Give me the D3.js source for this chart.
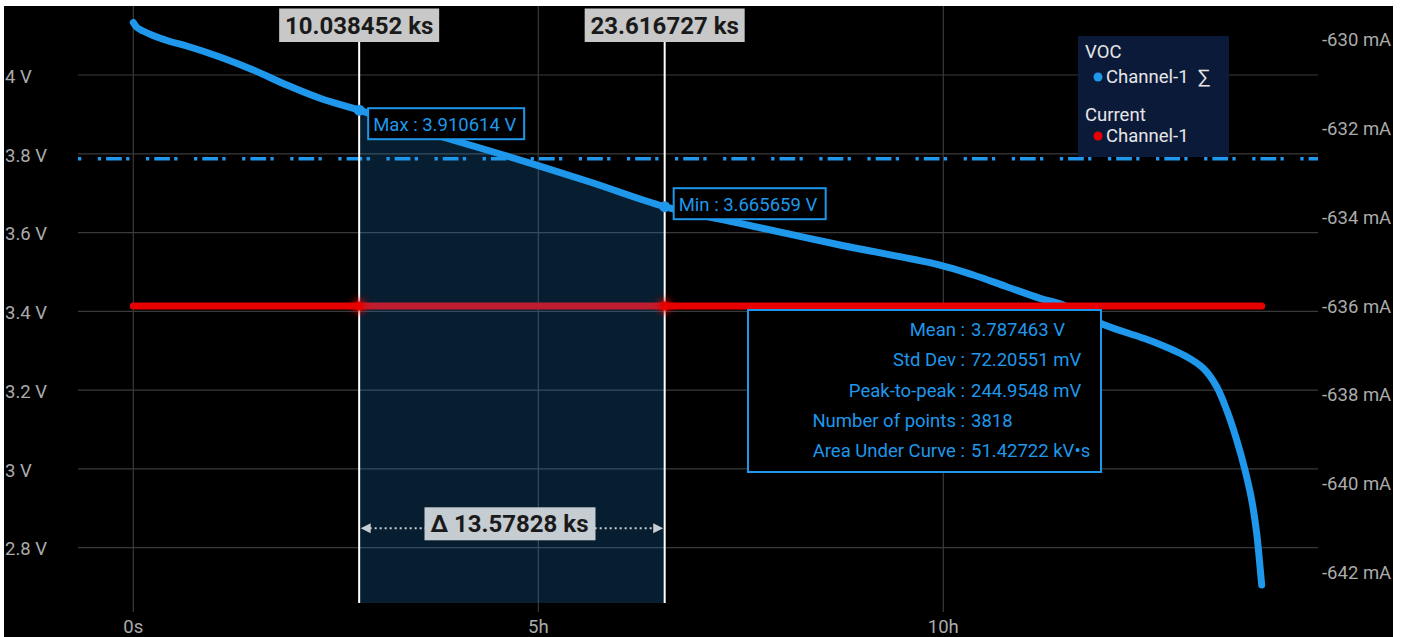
<!DOCTYPE html>
<html>
<head>
<meta charset="utf-8">
<script src="https://cdn.jsdelivr.net/npm/d3@7"></script>
<style>
  html, body { margin: 0; padding: 0; background: #fff; overflow: hidden; }
  svg { display: block; font-family: Roboto, "Noto Sans", sans-serif; }
</style>
</head>
<body>
<svg id="chart" width="1407" height="637"></svg>
<script>
// VOC Channel-1: elapsed time (s) and open-circuit voltage (V)
const vocTime = [0, 164, 431, 876, 1631, 2373, 3853, 5333, 6818, 8298, 10038.452, 13187, 16742, 20298,
  23616.727, 26964, 31409, 35853, 37333, 38818, 40298, 41333, 43111, 44742, 45333, 46818, 47556, 48151,
  48596, 49040, 49409, 49707, 49929, 50076, 50151];
const vocVolts = [4.1333, 4.1206, 4.1117, 4.1003, 4.0850, 4.0736, 4.0457, 4.0127, 3.9746, 3.9408, 3.910614,
  3.8528, 3.7918, 3.7284, 3.665659, 3.6235, 3.5684, 3.5176, 3.4923, 3.4626, 3.4331, 3.4161, 3.3666, 3.3349,
  3.3229, 3.2848, 3.2554, 3.2087, 3.1495, 3.0734, 2.9972, 2.9210, 2.8365, 2.7517, 2.7052];

// Current Channel-1 (mA)
const currentTime = [0, 50151];
const currentMilliamps = [-636.03, -636.03];

// Cursors and the statistics of the span between them
const cursorTimes = [10038.452, 23616.727];
const cursorLabels = ["10.038452 ks", "23.616727 ks"];
const deltaLabel = "\u0394 13.57828 ks";
const maxVolts = 3.910614;
const minVolts = 3.665659;
const maxLabel = "Max : 3.910614 V";
const minLabel = "Min : 3.665659 V";
const meanVolts = 3.787463;
const statNames = ["Mean :", "Std Dev :", "Peak-to-peak :", "Number of points :", "Area Under Curve :"];
const statValues = ["3.787463 V", "72.20551 mV", "244.9548 mV", "3818", "51.42722 kV\u2022s"];

// Axes
const voltTicks = [2.8, 3.0, 3.2, 3.4, 3.6, 3.8, 4.0];
const voltTickLabels = ["2.8 V", "3 V", "3.2 V", "3.4 V", "3.6 V", "3.8 V", "4 V"];
const currentTicks = [-642, -640, -638, -636, -634, -632, -630];
const currentTickLabels = ["-642 mA", "-640 mA", "-638 mA", "-636 mA", "-634 mA", "-632 mA", "-630 mA"];
const timeTicks = [0, 18000, 36000];
const timeTickLabels = ["0s", "5h", "10h"];

// Legend
const legendGroups = ["VOC", "Current"];
const legendEntries = ["Channel-1", "Channel-1"];

const BLUE = "#1f97ea";
const RED = "#e60000";
const GRID = "#3a3a3a";
const AXIS_TEXT = "#ababab";
const FS = 18.5;

const plot = { left: 78, right: 1318, top: 6, bottom: 603 };

const x = d3.scaleLinear().domain([0, 36000]).range([133.3, 943.3]);
const yV = d3.scaleLinear().domain([2.8, 4.0]).range([547.7, 75]);
const yA = d3.scaleLinear().domain([-642, -630]).range([571, 38.5]);

const svg = d3.select("#chart");
const defs = svg.append("defs");

const glow = defs.append("filter").attr("id", "glow")
  .attr("x", "-200%").attr("y", "-200%").attr("width", "500%").attr("height", "500%");
glow.append("feGaussianBlur").attr("stdDeviation", 3.5);

defs.append("clipPath").attr("id", "span")
  .append("rect")
  .attr("x", x(cursorTimes[0])).attr("y", plot.top)
  .attr("width", x(cursorTimes[1]) - x(cursorTimes[0]))
  .attr("height", plot.bottom - plot.top);

// background panel
svg.append("rect").attr("x", 0).attr("y", 0).attr("width", 1407).attr("height", 637).attr("fill", "#fff");
svg.append("rect").attr("x", 4).attr("y", 6).attr("width", 1389).attr("height", 631).attr("fill", "#000");

// grid
svg.append("g").selectAll("line").data(voltTicks).join("line")
  .attr("x1", plot.left).attr("x2", plot.right)
  .attr("y1", d => yV(d)).attr("y2", d => yV(d))
  .attr("stroke", GRID).attr("stroke-width", 1.2);
svg.append("g").selectAll("line").data(timeTicks).join("line")
  .attr("x1", d => x(d)).attr("x2", d => x(d))
  .attr("y1", plot.top).attr("y2", 612)
  .attr("stroke", GRID).attr("stroke-width", 1.2);

// mean level (dash-dot)
svg.append("line")
  .attr("x1", plot.left).attr("x2", plot.right)
  .attr("y1", yV(meanVolts)).attr("y2", yV(meanVolts))
  .attr("stroke", BLUE).attr("stroke-width", 3.4)
  .attr("stroke-dasharray", "3.3,16.5,3.3,5,15.7,4.3");

const vocData = vocTime.map((t, i) => ({ t, v: vocVolts[i] }));
const curData = currentTime.map((t, i) => ({ t, a: currentMilliamps[i] }));

// voltage trace
const vLine = d3.line().x(d => x(d.t)).y(d => yV(d.v)).curve(d3.curveCatmullRom.alpha(0.5));
svg.append("path").datum(vocData)
  .attr("d", vLine).attr("fill", "none")
  .attr("stroke", BLUE).attr("stroke-width", 7)
  .attr("stroke-linecap", "round").attr("stroke-linejoin", "round");

// current trace
const aLine = d3.line().x(d => x(d.t)).y(d => yA(d.a));
svg.append("path").datum(curData)
  .attr("d", aLine).attr("fill", "none")
  .attr("stroke", RED).attr("stroke-width", 7)
  .attr("stroke-linecap", "round");

// area under the curve between the cursors
const vArea = d3.area().x(d => x(d.t)).y0(plot.bottom).y1(d => yV(d.v)).curve(d3.curveCatmullRom.alpha(0.5));
svg.append("path").datum(vocData)
  .attr("d", vArea).attr("clip-path", "url(#span)")
  .attr("fill", BLUE).attr("fill-opacity", 0.2);

// cursor lines
svg.append("g").selectAll("line").data(cursorTimes).join("line")
  .attr("x1", d => x(d)).attr("x2", d => x(d))
  .attr("y1", 42).attr("y2", plot.bottom)
  .attr("stroke", "#fff").attr("stroke-width", 2);

// current markers at the cursors
const curAt = cursorTimes.map(t => ({ t, a: currentMilliamps[0] }));
svg.append("g").selectAll("circle").data(curAt).join("circle")
  .attr("cx", d => x(d.t)).attr("cy", d => yA(d.a)).attr("r", 7)
  .attr("fill", RED).attr("opacity", 0.8).attr("filter", "url(#glow)");
svg.append("g").selectAll("circle").data(curAt).join("circle")
  .attr("cx", d => x(d.t)).attr("cy", d => yA(d.a)).attr("r", 4.5)
  .attr("fill", RED);

// voltage markers at the cursors (max / min)
const extremes = [
  { t: cursorTimes[0], v: maxVolts, label: maxLabel, dx: 9, dy: -2, w: 156 },
  { t: cursorTimes[1], v: minVolts, label: minLabel, dx: 9, dy: -18.5, w: 152 }
];
svg.append("g").selectAll("circle").data(extremes).join("circle")
  .attr("cx", d => x(d.t)).attr("cy", d => yV(d.v)).attr("r", 5.5)
  .attr("fill", BLUE);
const ext = svg.append("g").selectAll("g").data(extremes).join("g")
  .attr("transform", d => `translate(${x(d.t) + d.dx},${yV(d.v) + d.dy})`);
ext.append("rect").attr("width", d => d.w).attr("height", 31)
  .attr("fill", "#000").attr("stroke", BLUE).attr("stroke-width", 2);
ext.append("text").attr("x", 5).attr("y", 23)
  .attr("fill", BLUE).attr("font-size", FS).text(d => d.label);

// cursor time labels
const cl = svg.append("g").selectAll("g").data(cursorTimes).join("g")
  .attr("transform", d => `translate(${x(d)},0)`);
cl.append("rect").attr("x", -80).attr("y", 8.5).attr("width", 160).attr("height", 33.5)
  .attr("fill", "#c8c8c8");
cl.append("text").attr("x", 0).attr("y", 34).attr("text-anchor", "middle")
  .attr("font-size", 24).attr("font-weight", "bold").attr("fill", "#1a1a1a")
  .text((d, i) => cursorLabels[i]);

// delta measurement arrow
const dY = 528.3;
const xa = x(cursorTimes[0]) + 1.5, xb = x(cursorTimes[1]) - 1.5;
svg.append("line").attr("x1", xa + 9).attr("x2", xb - 9).attr("y1", dY).attr("y2", dY)
  .attr("stroke", "#c8cdd2").attr("stroke-width", 2).attr("stroke-dasharray", "2,3");
svg.append("path").attr("d", `M${xa},${dY}L${xa + 10},${dY - 5}L${xa + 10},${dY + 5}Z`).attr("fill", "#c8cdd2");
svg.append("path").attr("d", `M${xb},${dY}L${xb - 10},${dY - 5}L${xb - 10},${dY + 5}Z`).attr("fill", "#c8cdd2");
svg.append("rect").attr("x", 424.5).attr("y", 507.3).attr("width", 171).attr("height", 33)
  .attr("fill", "#c5ccd2");
svg.append("text").attr("x", 509.5).attr("y", 532).attr("text-anchor", "middle")
  .attr("font-size", 24).attr("font-weight", "bold").attr("fill", "#1a1a1a")
  .text(deltaLabel);

// statistics box
const stats = svg.append("g").attr("transform", "translate(748,310)");
stats.append("rect").attr("width", 353).attr("height", 162)
  .attr("fill", "#000").attr("stroke", BLUE).attr("stroke-width", 2);
const rows = stats.selectAll("g").data(statNames).join("g")
  .attr("transform", (d, i) => `translate(0,${26 + i * 30.3})`);
rows.append("text").attr("x", 217).attr("text-anchor", "end")
  .attr("fill", BLUE).attr("font-size", FS).text(d => d);
rows.append("text").attr("x", 223)
  .attr("fill", BLUE).attr("font-size", FS).text((d, i) => statValues[i]);

// legend
const lg = svg.append("g").attr("transform", "translate(1078,36)");
lg.append("rect").attr("width", 151).attr("height", 121).attr("fill", "#0c1a3a");
const lgColors = [BLUE, RED];
legendGroups.forEach((g, i) => {
  const oy = i * 63;
  lg.append("text").attr("x", 7).attr("y", 21.5 + oy).attr("fill", "#e6e6e6").attr("font-size", FS).text(g);
  lg.append("circle").attr("cx", 20).attr("cy", 41 + oy - (i ? 4 : 0)).attr("r", 4.5).attr("fill", lgColors[i]);
  lg.append("text").attr("x", 28).attr("y", 46.5 + oy - (i ? 4 : 0)).attr("fill", "#e6e6e6").attr("font-size", FS).text(legendEntries[i]);
});
lg.append("text").attr("x", 120).attr("y", 47.5).attr("fill", "#e6e6e6").attr("font-size", 20).text("\u2211");

// left axis labels
svg.append("g").selectAll("text").data(voltTicks).join("text")
  .attr("x", 5).attr("y", d => yV(d)).attr("dy", "0.42em")
  .attr("fill", AXIS_TEXT).attr("font-size", FS)
  .text((d, i) => voltTickLabels[i]);

// right axis labels
svg.append("g").selectAll("text").data(currentTicks).join("text")
  .attr("x", 1322).attr("y", d => yA(d)).attr("dy", "0.42em")
  .attr("fill", AXIS_TEXT).attr("font-size", FS)
  .text((d, i) => currentTickLabels[i]);

// time axis labels
svg.append("g").selectAll("text").data(timeTicks).join("text")
  .attr("x", d => x(d)).attr("y", 633).attr("text-anchor", "middle")
  .attr("fill", AXIS_TEXT).attr("font-size", FS)
  .text((d, i) => timeTickLabels[i]);

// page margins
svg.append("rect").attr("x", 1393).attr("y", 0).attr("width", 14).attr("height", 637).attr("fill", "#fff");
svg.append("rect").attr("x", 0).attr("y", 0).attr("width", 1407).attr("height", 6).attr("fill", "#fff");
svg.append("rect").attr("x", 0).attr("y", 0).attr("width", 4).attr("height", 637).attr("fill", "#fff");
</script>
</body>
</html>
